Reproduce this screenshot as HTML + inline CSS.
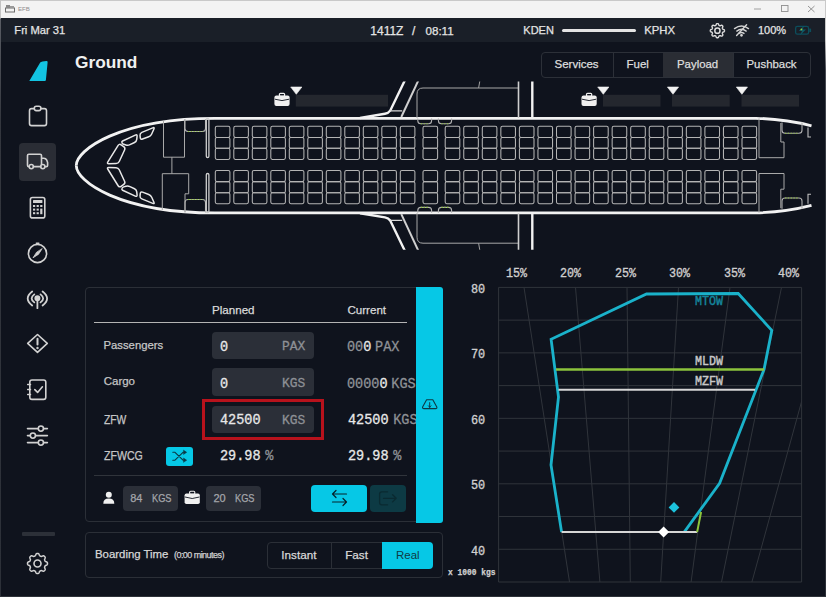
<!DOCTYPE html><html><head><meta charset="utf-8"><style>
*{box-sizing:border-box;margin:0;padding:0}
html,body{width:826px;height:597px;overflow:hidden;background:#0f131d;font-family:"Liberation Sans",sans-serif;color:#dcdcdc}
.abs{position:absolute}
.t{position:absolute;white-space:nowrap;line-height:1;-webkit-text-stroke:0.25px currentColor}
.mono{font-family:"Liberation Mono",monospace}
svg{position:absolute;overflow:visible}
</style></head><body>
<div class="abs" style="left:0;top:0;width:826px;height:18px;background:#f3f3f3"></div>
<div class="abs" style="left:0;top:0;width:826px;height:1px;background:#c9c9c9"></div>
<div class="abs" style="left:0;top:0;width:1px;height:597px;background:linear-gradient(#c4c4c4 0,#c4c4c4 18px,#5a5d64 19px,#34373e 120px,#2c3038 597px)"></div>
<div class="abs" style="left:825px;top:0;width:1px;height:597px;background:linear-gradient(#c9c9c9 0,#c9c9c9 40px,#4a4d55 70px,#2c3038 200px,#2c3038 597px)"></div>
<div class="abs" style="left:0;top:596px;width:826px;height:1px;background:#2e3239"></div>
<svg style="left:0;top:0" width="40" height="18" viewBox="0 0 40 18">
<rect x="5.5" y="8" width="9" height="4" fill="none" stroke="#6d6d6d" stroke-width="1"/>
<rect x="6" y="5" width="4" height="3" fill="#8a8a8a"/><rect x="10" y="6" width="4" height="2" fill="#9a9a9a"/>
</svg>
<div class="t" style="left:18px;top:6.4px;font-size:6.1px;color:#8e8e8e;-webkit-text-stroke:0">EFB</div>
<svg style="left:740px;top:0" width="86" height="18" viewBox="0 0 86 18">
<line x1="14" y1="9" x2="21" y2="9" stroke="#8a8a8a" stroke-width="0.8"/>
<rect x="41.5" y="5.5" width="6.5" height="6" fill="none" stroke="#8f8f8f" stroke-width="0.9"/>
<path d="M68,6 L74.5,12 M74.5,6 L68,12" stroke="#8a8a8a" stroke-width="0.9"/>
</svg>
<div class="abs" style="left:1px;top:18px;width:824px;height:23.6px;background:#1a1f28"></div>
<div class="t" style="left:14.3px;color:#e4e4e4;font-size:12px;top:25px;font-size:11.2px">Fri Mar 31</div>
<div class="t" style="left:370.3px;color:#e4e4e4;font-size:12px;top:25px">1411Z</div>
<div class="t" style="left:412px;color:#e4e4e4;font-size:12px;top:25px">/</div>
<div class="t" style="left:425.5px;color:#e4e4e4;font-size:12px;top:25px;font-size:11.6px">08:11</div>
<div class="t" style="left:523.3px;color:#e4e4e4;font-size:12px;top:25px;font-size:11px">KDEN</div>
<div class="abs" style="left:562px;top:29px;width:74px;height:3px;background:#e4e4e4;border-radius:1.5px"></div>
<div class="t" style="left:644.3px;color:#e4e4e4;font-size:12px;top:25px;font-size:11.3px">KPHX</div>
<div class="t" style="left:758px;color:#e4e4e4;font-size:12px;top:25px;font-size:11px">100%</div>
<svg style="left:0;top:0" width="826" height="42" viewBox="0 0 826 42">
<path d="M724.50,30.70 L724.49,30.89 L724.47,31.07 L724.42,31.25 L724.35,31.43 L724.22,31.60 L724.01,31.75 L723.74,31.87 L723.42,31.98 L723.14,32.08 L722.93,32.18 L722.78,32.29 L722.68,32.42 L722.60,32.54 L722.54,32.67 L722.48,32.80 L722.43,32.94 L722.38,33.08 L722.35,33.22 L722.33,33.38 L722.36,33.56 L722.43,33.78 L722.56,34.05 L722.71,34.35 L722.82,34.64 L722.86,34.89 L722.83,35.10 L722.76,35.28 L722.66,35.44 L722.55,35.58 L722.42,35.72 L722.28,35.85 L722.14,35.96 L721.98,36.06 L721.80,36.13 L721.59,36.16 L721.34,36.12 L721.05,36.01 L720.75,35.86 L720.48,35.73 L720.26,35.66 L720.08,35.63 L719.92,35.65 L719.78,35.68 L719.64,35.73 L719.50,35.78 L719.37,35.84 L719.24,35.90 L719.12,35.98 L718.99,36.08 L718.88,36.23 L718.78,36.44 L718.68,36.72 L718.57,37.04 L718.45,37.31 L718.30,37.52 L718.13,37.65 L717.95,37.72 L717.77,37.77 L717.59,37.79 L717.40,37.80 L717.21,37.79 L717.03,37.77 L716.85,37.72 L716.67,37.65 L716.50,37.52 L716.35,37.31 L716.23,37.04 L716.12,36.72 L716.02,36.44 L715.92,36.23 L715.81,36.08 L715.68,35.98 L715.56,35.90 L715.43,35.84 L715.30,35.78 L715.16,35.73 L715.02,35.68 L714.88,35.65 L714.72,35.63 L714.54,35.66 L714.32,35.73 L714.05,35.86 L713.75,36.01 L713.46,36.12 L713.21,36.16 L713.00,36.13 L712.82,36.06 L712.66,35.96 L712.52,35.85 L712.38,35.72 L712.25,35.58 L712.14,35.44 L712.04,35.28 L711.97,35.10 L711.94,34.89 L711.98,34.64 L712.09,34.35 L712.24,34.05 L712.37,33.78 L712.44,33.56 L712.47,33.38 L712.45,33.22 L712.42,33.08 L712.37,32.94 L712.32,32.80 L712.26,32.67 L712.20,32.54 L712.12,32.42 L712.02,32.29 L711.87,32.18 L711.66,32.08 L711.38,31.98 L711.06,31.87 L710.79,31.75 L710.58,31.60 L710.45,31.43 L710.38,31.25 L710.33,31.07 L710.31,30.89 L710.30,30.70 L710.31,30.51 L710.33,30.33 L710.38,30.15 L710.45,29.97 L710.58,29.80 L710.79,29.65 L711.06,29.53 L711.38,29.42 L711.66,29.32 L711.87,29.22 L712.02,29.11 L712.12,28.98 L712.20,28.86 L712.26,28.73 L712.32,28.60 L712.37,28.46 L712.42,28.32 L712.45,28.18 L712.47,28.02 L712.44,27.84 L712.37,27.62 L712.24,27.35 L712.09,27.05 L711.98,26.76 L711.94,26.51 L711.97,26.30 L712.04,26.12 L712.14,25.96 L712.25,25.82 L712.38,25.68 L712.52,25.55 L712.66,25.44 L712.82,25.34 L713.00,25.27 L713.21,25.24 L713.46,25.28 L713.75,25.39 L714.05,25.54 L714.32,25.67 L714.54,25.74 L714.72,25.77 L714.88,25.75 L715.02,25.72 L715.16,25.67 L715.30,25.62 L715.43,25.56 L715.56,25.50 L715.68,25.42 L715.81,25.32 L715.92,25.17 L716.02,24.96 L716.12,24.68 L716.23,24.36 L716.35,24.09 L716.50,23.88 L716.67,23.75 L716.85,23.68 L717.03,23.63 L717.21,23.61 L717.40,23.60 L717.59,23.61 L717.77,23.63 L717.95,23.68 L718.13,23.75 L718.30,23.88 L718.45,24.09 L718.57,24.36 L718.68,24.68 L718.78,24.96 L718.88,25.17 L718.99,25.32 L719.12,25.42 L719.24,25.50 L719.37,25.56 L719.50,25.62 L719.64,25.67 L719.78,25.72 L719.92,25.75 L720.08,25.77 L720.26,25.74 L720.48,25.67 L720.75,25.54 L721.05,25.39 L721.34,25.28 L721.59,25.24 L721.80,25.27 L721.98,25.34 L722.14,25.44 L722.28,25.55 L722.42,25.68 L722.55,25.82 L722.66,25.96 L722.76,26.12 L722.83,26.30 L722.86,26.51 L722.82,26.76 L722.71,27.05 L722.56,27.35 L722.43,27.62 L722.36,27.84 L722.33,28.02 L722.35,28.18 L722.38,28.32 L722.43,28.46 L722.48,28.60 L722.54,28.73 L722.60,28.86 L722.68,28.98 L722.78,29.11 L722.93,29.22 L723.14,29.32 L723.42,29.42 L723.74,29.53 L724.01,29.65 L724.22,29.80 L724.35,29.97 L724.42,30.15 L724.47,30.33 L724.49,30.51Z" fill="none" stroke="#dcdcdc" stroke-width="1.4" stroke-linejoin="round"/>
<circle cx="717.4" cy="30.7" r="2.6" fill="none" stroke="#dcdcdc" stroke-width="1.5"/>
<g fill="none" stroke="#d4d4d4" stroke-width="1.4" stroke-linecap="round">
<path d="M734.5,28.6 Q741.5,23.4 748.5,28.6"/><path d="M736.8,31.1 Q741.5,27.5 746.2,31.1"/><path d="M739,33.4 Q741.5,31.6 744,33.4"/>
<circle cx="741.5" cy="35.3" r="0.7" fill="#d4d4d4"/>
<line x1="736.6" y1="35.6" x2="746.6" y2="24.8"/>
</g>
<rect x="795.6" y="26.4" width="13" height="7.8" rx="1.8" fill="none" stroke="#0c4e5c" stroke-width="1.3"/>
<rect x="809.3" y="28.6" width="1.8" height="3.4" fill="#0c4e5c"/>
<path d="M804,25.8 L798.8,31 L802,31 L800.2,35 L806,29.4 L802.8,29.4 Z" fill="#0e5a68"/>
<circle cx="801.4" cy="29.4" r="0.9" fill="#9ccc2a"/>
</svg>
<div class="abs" style="left:19px;top:143px;width:37px;height:37.5px;background:#2a2d35;border-radius:4px"></div>
<svg style="left:0;top:0" width="70" height="597" viewBox="0 0 70 597">
<path d="M40.2,62.6 Q40.8,61.6 42.5,61.4 L46.4,61 Q47.8,60.9 47.6,62.4 L45.9,80 Q45.8,81 44.8,81 L29.3,81 Z" fill="#12c4e2" stroke="none"/>
<g fill="none" stroke="#d2d2d2" stroke-width="1.6" stroke-linecap="round" stroke-linejoin="round">
<path d="M33.8,108.6 L31.6,108.6 Q29.5,108.6 29.5,110.7 L29.5,123.5 Q29.5,125.6 31.6,125.6 L44.4,125.6 Q46.5,125.6 46.5,123.5 L46.5,110.7 Q46.5,108.6 44.4,108.6 L41.2,108.6"/>
<rect x="34.3" y="106.2" width="6.6" height="4.4" rx="2"/>
<path d="M41.5,164.5 L41.5,155.6 Q41.5,154.2 40.1,154.2 L28.9,154.2 Q27.5,154.2 27.5,155.6 L27.5,165.2 Q27.5,166.6 28.9,166.6 L29.2,166.6 M41.5,158.2 L43.8,158.2 Q45.8,158.2 46.8,160.2 L47.6,162.4 L47.6,165.4 Q47.6,166.6 46.4,166.6 L44.9,166.6 M40.7,166.6 L33.4,166.6"/>
<circle cx="31.3" cy="166.6" r="2.1"/><circle cx="42.8" cy="166.6" r="2.1"/>
<rect x="30.4" y="197.5" width="14.4" height="20.4" rx="2"/>
</g>
<g fill="#d2d2d2">
<rect x="33" y="200" width="9.4" height="3" rx="0.5"/>
<rect x="33" y="205" width="2.2" height="2"/><rect x="36.6" y="205" width="2.2" height="2"/><rect x="40.2" y="205" width="2.2" height="2"/>
<rect x="33" y="208.6" width="2.2" height="2"/><rect x="36.6" y="208.6" width="2.2" height="2"/><rect x="40.2" y="208.6" width="2.2" height="5.6"/>
<rect x="33" y="212.2" width="2.2" height="2"/><rect x="36.6" y="212.2" width="2.2" height="2"/>
</g>
<g fill="none" stroke="#d2d2d2" stroke-width="1.6" stroke-linecap="round" stroke-linejoin="round">
<circle cx="37.5" cy="253.5" r="9.1"/>
<path d="M36.4,243.2 L38.8,243.2"/>
<path d="M42,248.9 L38.5,254.3 L33,257.8 L36.5,252.4 Z" fill="#d2d2d2" stroke-width="0.8"/>
<path d="M32.2,291.5 Q23.2,298.5 32.2,305.5 M42.6,291.5 Q51.6,298.5 42.6,305.5 M34.3,294.4 Q29,298.4 34.3,302.4 M40.5,294.4 Q45.8,298.4 40.5,302.4" stroke-width="1.8"/>
<circle cx="37.4" cy="298.3" r="2.2" fill="#d2d2d2"/>
<path d="M37.4,300 L37.4,308.2" stroke-width="1.8"/>
<path d="M37.5,334.5 L47.3,343.4 L37.5,352.3 L27.7,343.4 Z"/>
<path d="M37.5,338.8 L37.5,344.6" stroke-width="2"/>
<circle cx="37.5" cy="348" r="0.5" fill="#d2d2d2" stroke-width="1.4"/>
<rect x="29.8" y="380" width="16" height="19.4" rx="2.2"/>
<path d="M34.8,389.6 L37.6,392.4 L42.4,386.8"/>
<path d="M27.6,384.5 L30.6,384.5 M27.6,389.5 L30.6,389.5 M27.6,394.5 L30.6,394.5" stroke-width="1.3"/>
<path d="M27.5,428.6 L38.2,428.6 M43.6,428.6 L47.4,428.6 M27.5,435.6 L30.2,435.6 M35.6,435.6 L47.4,435.6 M27.5,442.6 L38.2,442.6 M43.6,442.6 L47.4,442.6"/>
<circle cx="40.9" cy="428.6" r="2.6"/><circle cx="32.9" cy="435.6" r="2.6"/><circle cx="40.9" cy="442.6" r="2.6"/>
<path d="M47.50,563.50 L47.49,563.76 L47.46,564.02 L47.40,564.28 L47.30,564.53 L47.12,564.77 L46.85,564.98 L46.49,565.17 L46.07,565.32 L45.70,565.47 L45.41,565.62 L45.22,565.79 L45.08,565.96 L44.97,566.15 L44.88,566.33 L44.80,566.52 L44.72,566.72 L44.65,566.91 L44.60,567.12 L44.57,567.34 L44.60,567.60 L44.69,567.90 L44.85,568.27 L45.03,568.68 L45.16,569.07 L45.20,569.41 L45.15,569.70 L45.05,569.95 L44.91,570.17 L44.75,570.38 L44.57,570.57 L44.38,570.75 L44.17,570.91 L43.95,571.05 L43.70,571.15 L43.41,571.20 L43.07,571.16 L42.68,571.03 L42.27,570.85 L41.90,570.69 L41.60,570.60 L41.34,570.57 L41.12,570.60 L40.91,570.65 L40.72,570.72 L40.52,570.80 L40.33,570.88 L40.15,570.97 L39.96,571.08 L39.79,571.22 L39.62,571.41 L39.47,571.70 L39.32,572.07 L39.17,572.49 L38.98,572.85 L38.77,573.12 L38.53,573.30 L38.28,573.40 L38.02,573.46 L37.76,573.49 L37.50,573.50 L37.24,573.49 L36.98,573.46 L36.72,573.40 L36.47,573.30 L36.23,573.12 L36.02,572.85 L35.83,572.49 L35.68,572.07 L35.53,571.70 L35.38,571.41 L35.21,571.22 L35.04,571.08 L34.85,570.97 L34.67,570.88 L34.48,570.80 L34.28,570.72 L34.09,570.65 L33.88,570.60 L33.66,570.57 L33.40,570.60 L33.10,570.69 L32.73,570.85 L32.32,571.03 L31.93,571.16 L31.59,571.20 L31.30,571.15 L31.05,571.05 L30.83,570.91 L30.62,570.75 L30.43,570.57 L30.25,570.38 L30.09,570.17 L29.95,569.95 L29.85,569.70 L29.80,569.41 L29.84,569.07 L29.97,568.68 L30.15,568.27 L30.31,567.90 L30.40,567.60 L30.43,567.34 L30.40,567.12 L30.35,566.91 L30.28,566.72 L30.20,566.52 L30.12,566.33 L30.03,566.15 L29.92,565.96 L29.78,565.79 L29.59,565.62 L29.30,565.47 L28.93,565.32 L28.51,565.17 L28.15,564.98 L27.88,564.77 L27.70,564.53 L27.60,564.28 L27.54,564.02 L27.51,563.76 L27.50,563.50 L27.51,563.24 L27.54,562.98 L27.60,562.72 L27.70,562.47 L27.88,562.23 L28.15,562.02 L28.51,561.83 L28.93,561.68 L29.30,561.53 L29.59,561.38 L29.78,561.21 L29.92,561.04 L30.03,560.85 L30.12,560.67 L30.20,560.48 L30.28,560.28 L30.35,560.09 L30.40,559.88 L30.43,559.66 L30.40,559.40 L30.31,559.10 L30.15,558.73 L29.97,558.32 L29.84,557.93 L29.80,557.59 L29.85,557.30 L29.95,557.05 L30.09,556.83 L30.25,556.62 L30.43,556.43 L30.62,556.25 L30.83,556.09 L31.05,555.95 L31.30,555.85 L31.59,555.80 L31.93,555.84 L32.32,555.97 L32.73,556.15 L33.10,556.31 L33.40,556.40 L33.66,556.43 L33.88,556.40 L34.09,556.35 L34.28,556.28 L34.48,556.20 L34.67,556.12 L34.85,556.03 L35.04,555.92 L35.21,555.78 L35.38,555.59 L35.53,555.30 L35.68,554.93 L35.83,554.51 L36.02,554.15 L36.23,553.88 L36.47,553.70 L36.72,553.60 L36.98,553.54 L37.24,553.51 L37.50,553.50 L37.76,553.51 L38.02,553.54 L38.28,553.60 L38.53,553.70 L38.77,553.88 L38.98,554.15 L39.17,554.51 L39.32,554.93 L39.47,555.30 L39.62,555.59 L39.79,555.78 L39.96,555.92 L40.15,556.03 L40.33,556.12 L40.52,556.20 L40.72,556.28 L40.91,556.35 L41.12,556.40 L41.34,556.43 L41.60,556.40 L41.90,556.31 L42.27,556.15 L42.68,555.97 L43.07,555.84 L43.41,555.80 L43.70,555.85 L43.95,555.95 L44.17,556.09 L44.38,556.25 L44.57,556.43 L44.75,556.62 L44.91,556.83 L45.05,557.05 L45.15,557.30 L45.20,557.59 L45.16,557.93 L45.03,558.32 L44.85,558.73 L44.69,559.10 L44.60,559.40 L44.57,559.66 L44.60,559.88 L44.65,560.09 L44.72,560.28 L44.80,560.48 L44.88,560.67 L44.97,560.85 L45.08,561.04 L45.22,561.21 L45.41,561.38 L45.70,561.53 L46.07,561.68 L46.49,561.83 L46.85,562.02 L47.12,562.23 L47.30,562.47 L47.40,562.72 L47.46,562.98 L47.49,563.24Z" stroke-width="1.5"/>
<circle cx="37.5" cy="563.5" r="3.5"/>
</g>
</svg>
<div class="abs" style="left:21.5px;top:532.3px;width:33px;height:3.8px;background:#2c3038;border-radius:1px"></div>
<div class="t" style="left:75px;top:54px;font-size:17.3px;font-weight:bold;color:#f0f0f0;-webkit-text-stroke:0">Ground</div>
<div class="abs" style="left:541px;top:51.5px;width:270px;height:26px;border:1px solid #2c3038;border-radius:4px"></div>
<div class="abs" style="left:663px;top:52.5px;width:70px;height:24px;background:#2a2d34"></div>
<div class="abs" style="left:613px;top:52px;width:1px;height:25px;background:#2c3038"></div>
<div class="abs" style="left:733px;top:52px;width:1px;height:25px;background:#2c3038"></div>
<div class="t" style="left:554.5px;top:59px;font-size:11.5px;color:#dedede;font-size:11.5px">Services</div>
<div class="t" style="left:626.5px;top:59px;font-size:11.5px;color:#dedede">Fuel</div>
<div class="t" style="left:677px;top:59px;font-size:11.5px;color:#dedede;font-size:11.4px">Payload</div>
<div class="t" style="left:746.5px;top:59px;font-size:11.5px;color:#dedede;font-size:11.4px">Pushback</div>
<svg style="left:0;top:0" width="826" height="260" viewBox="0 0 826 260">
<defs><clipPath id="acl"><rect x="60" y="81.5" width="766" height="168.3"/></clipPath></defs>
<g clip-path="url(#acl)">
<rect x="295.8" y="94.8" width="92.19999999999999" height="11.8" fill="#24272e"/>
<rect x="603" y="94.8" width="57.5" height="11.8" fill="#24272e"/>
<rect x="672" y="94.8" width="57.700000000000045" height="11.8" fill="#24272e"/>
<rect x="741.5" y="94.8" width="57.5" height="11.8" fill="#24272e"/>
<path d="M290.7,87 L301.90000000000003,87 L296.3,94.3 Z" fill="#f2f2f2" stroke="#f2f2f2" stroke-width="0.6" stroke-linejoin="round"/>
<path d="M597.6999999999999,87 L608.9,87 L603.3,94.3 Z" fill="#f2f2f2" stroke="#f2f2f2" stroke-width="0.6" stroke-linejoin="round"/>
<path d="M667.4,87 L678.6,87 L673,94.3 Z" fill="#f2f2f2" stroke="#f2f2f2" stroke-width="0.6" stroke-linejoin="round"/>
<path d="M736.3,87 L747.5,87 L741.9,94.3 Z" fill="#f2f2f2" stroke="#f2f2f2" stroke-width="0.6" stroke-linejoin="round"/>
<g transform="translate(274.4,93)"><rect x="0" y="2.5" width="15.2" height="10.5" rx="2" fill="#f0f0f0"/><rect x="5" y="0.3" width="5.2" height="3" rx="1" fill="none" stroke="#f0f0f0" stroke-width="1.2"/><path d="M0.5,6.2 Q7.6,9 14.7,6.2" fill="none" stroke="#0f131d" stroke-width="0.9"/></g>
<g transform="translate(581.5,93)"><rect x="0" y="2.5" width="15.2" height="10.5" rx="2" fill="#f0f0f0"/><rect x="5" y="0.3" width="5.2" height="3" rx="1" fill="none" stroke="#f0f0f0" stroke-width="1.2"/><path d="M0.5,6.2 Q7.6,9 14.7,6.2" fill="none" stroke="#0f131d" stroke-width="0.9"/></g>
<path d="M76.3,165.6 C76,150 119.5,118.3 214.8,118.3 L756,118.3 Q785,119 811.5,125.8" fill="none" stroke="#f2f2f2" stroke-width="2.8"/>
<path d="M76.3,165.6 C76,181.2 119.5,212.9 214.8,212.9 L756,212.9 Q785,212.2 811.5,205.4" fill="none" stroke="#f2f2f2" stroke-width="2.8"/>
<path d="M406,78 L390.2,110.7 Q388.5,113.2 385,113.8 L360,118" fill="none" stroke="#f2f2f2" stroke-width="2.4"/>
<path d="M390.2,110.9 L402.2,110.9" fill="none" stroke="#d8d8d8" stroke-width="1.2"/>
<path d="M419.5,78 L401.3,117" fill="none" stroke="#d0d0d0" stroke-width="2"/>
<path d="M417,118 L417,94 Q417,88 423,88 L518.5,88" fill="none" stroke="#a8a8a8" stroke-width="1"/>
<path d="M480,80 L478.6,88" fill="none" stroke="#a0a0a0" stroke-width="1"/>
<path d="M518.5,78 L518.5,118" fill="none" stroke="#cfcfcf" stroke-width="1.6"/>
<path d="M532.3,78 L532.3,118" fill="none" stroke="#f2f2f2" stroke-width="2.4"/>
<path d="M406,253.2 L390.2,220.5 Q388.5,218.0 385,217.4 L360,213.2" fill="none" stroke="#f2f2f2" stroke-width="2.4"/>
<path d="M390.2,220.3 L402.2,220.3" fill="none" stroke="#d8d8d8" stroke-width="1.2"/>
<path d="M419.5,253.2 L401.3,214.2" fill="none" stroke="#d0d0d0" stroke-width="2"/>
<path d="M417,213.2 L417,237.2 Q417,243.2 423,243.2 L518.5,243.2" fill="none" stroke="#a8a8a8" stroke-width="1"/>
<path d="M480,251.2 L478.6,243.2" fill="none" stroke="#a0a0a0" stroke-width="1"/>
<path d="M518.5,253.2 L518.5,213.2" fill="none" stroke="#cfcfcf" stroke-width="1.6"/>
<path d="M532.3,253.2 L532.3,213.2" fill="none" stroke="#f2f2f2" stroke-width="2.4"/>
<path d="M140.03,135.39 Q139.80,133.20 141.83,132.36 L152.77,127.84 Q154.80,127.00 153.91,129.01 L151.69,133.99 Q150.80,136.00 148.74,136.76 L142.56,139.04 Q140.50,139.80 140.27,137.61 Z" fill="none" stroke="#e8e8e8" stroke-width="1.5"/>
<path d="M140.03,195.81 Q139.80,198.00 141.83,198.84 L152.77,203.36 Q154.80,204.20 153.91,202.19 L151.69,197.21 Q150.80,195.20 148.74,194.44 L142.56,192.16 Q140.50,191.40 140.27,193.59 Z" fill="none" stroke="#e8e8e8" stroke-width="1.5"/>
<path d="M121.95,142.64 Q121.50,141.50 122.61,140.99 L135.30,135.12 Q137.30,134.20 137.06,136.39 L136.74,139.31 Q136.50,141.50 134.52,142.46 L129.98,144.64 Q128.00,145.60 125.89,144.99 L123.68,144.34 Q122.50,144.00 122.05,142.86 Z" fill="none" stroke="#e8e8e8" stroke-width="1.5"/>
<path d="M121.95,188.56 Q121.50,189.70 122.61,190.21 L135.30,196.08 Q137.30,197.00 137.06,194.81 L136.74,191.89 Q136.50,189.70 134.52,188.74 L129.98,186.56 Q128.00,185.60 125.89,186.21 L123.68,186.86 Q122.50,187.20 122.05,188.34 Z" fill="none" stroke="#e8e8e8" stroke-width="1.5"/>
<path d="M118.14,145.47 Q119.30,143.60 121.09,144.87 L123.71,146.73 Q125.50,148.00 124.57,150.00 L119.23,161.50 Q118.30,163.50 116.10,163.56 L108.90,163.74 Q106.70,163.80 107.86,161.93 Z" fill="none" stroke="#e8e8e8" stroke-width="1.5"/>
<path d="M118.14,185.73 Q119.30,187.60 121.09,186.33 L123.71,184.47 Q125.50,183.20 124.57,181.20 L119.23,169.70 Q118.30,167.70 116.10,167.64 L108.90,167.46 Q106.70,167.40 107.86,169.27 Z" fill="none" stroke="#e8e8e8" stroke-width="1.5"/>
<path d="M163.5,121 L163.5,157.2 L184.5,157.2 L184.5,119.5" fill="none" stroke="#a9a9a9" stroke-width="1"/>
<path d="M171.9,157.2 L171.9,173.7" fill="none" stroke="#a9a9a9" stroke-width="1"/>
<path d="M162.3,210 L162.3,173.7 L188.7,173.7 L188.7,193.8 L185,193.8 L185,212" fill="none" stroke="#a9a9a9" stroke-width="1"/>
<path d="M185,119 L185,128.5 Q185,131.5 188,131.5 L202.5,131.5 Q205.5,131.5 205.5,128.5 L205.5,119" fill="none" stroke="#b0b0b0" stroke-width="1.1"/><path d="M188,131.5 L202.5,131.5" stroke="#8fc43a" stroke-width="1.1" stroke-dasharray="1.2,1.6"/>
<path d="M185,212.5 L185,202.5 Q185,199.5 188,199.5 L202.5,199.5 Q205.5,199.5 205.5,202.5 L205.5,212.5" fill="none" stroke="#b0b0b0" stroke-width="1.1"/><path d="M188,199.5 L202.5,199.5" stroke="#8fc43a" stroke-width="1.1" stroke-dasharray="1.4,1.4"/>
<path d="M417.8,118.5 L417.8,120.8 Q417.8,123.8 420.8,123.8 L428.6,123.8 Q431.6,123.8 431.6,120.8 L431.6,118.5" fill="none" stroke="#b0b0b0" stroke-width="1.1"/><path d="M420.8,123.8 L428.6,123.8" stroke="#8fc43a" stroke-width="1.1" stroke-dasharray="1.2,1.6"/>
<path d="M417.8,212.7 L417.8,210.4 Q417.8,207.4 420.8,207.4 L428.6,207.4 Q431.6,207.4 431.6,210.4 L431.6,212.7" fill="none" stroke="#b0b0b0" stroke-width="1.1"/><path d="M420.8,207.4 L428.6,207.4" stroke="#8fc43a" stroke-width="1.1" stroke-dasharray="1.4,1.4"/>
<path d="M438.4,118.5 L438.4,120.8 Q438.4,123.8 441.4,123.8 L448.6,123.8 Q451.6,123.8 451.6,120.8 L451.6,118.5" fill="none" stroke="#b0b0b0" stroke-width="1.1"/><path d="M441.4,123.8 L448.6,123.8" stroke="#8fc43a" stroke-width="1.1" stroke-dasharray="1.2,1.6"/>
<path d="M438.4,212.7 L438.4,210.4 Q438.4,207.4 441.4,207.4 L448.6,207.4 Q451.6,207.4 451.6,210.4 L451.6,212.7" fill="none" stroke="#b0b0b0" stroke-width="1.1"/><path d="M441.4,207.4 L448.6,207.4" stroke="#8fc43a" stroke-width="1.1" stroke-dasharray="1.4,1.4"/>
<path d="M782,122.5 L782,130.2 Q782,133.2 785,133.2 L799,133.2 Q802,133.2 802,130.2 L802,122.5" fill="none" stroke="#b0b0b0" stroke-width="1.1"/><path d="M785,133.2 L799,133.2" stroke="#8fc43a" stroke-width="1.1" stroke-dasharray="1.2,1.6"/>
<path d="M782,208.7 L782,201.0 Q782,198.0 785,198.0 L799,198.0 Q802,198.0 802,201.0 L802,208.7" fill="none" stroke="#b0b0b0" stroke-width="1.1"/><path d="M785,198.0 L799,198.0" stroke="#8fc43a" stroke-width="1.1" stroke-dasharray="1.4,1.4"/>
<rect x="206.3" y="118.5" width="2.6" height="39" rx="1.3" fill="none" stroke="#d0d0d0" stroke-width="1.3"/>
<rect x="206.3" y="173.5" width="2.6" height="39" rx="1.3" fill="none" stroke="#d0d0d0" stroke-width="1.3"/>
<path d="M759,118.5 L759,157.7 L784,157.7 L784,142 L780.8,142 L780.8,123" fill="none" stroke="#a9a9a9" stroke-width="1"/>
<path d="M759,212.7 L759,173.5 L784,173.5 L784,189.2 L780.8,189.2 L780.8,208.2" fill="none" stroke="#a9a9a9" stroke-width="1"/>
<path d="M808,127.5 L808,137 L811,137" fill="none" stroke="#c0c0c0" stroke-width="1.1"/>
<path d="M808,203.7 L808,194.2 L811,194.2" fill="none" stroke="#c0c0c0" stroke-width="1.1"/>
<rect x="215.30" y="126.3" width="14.6" height="11.10" rx="1.6" fill="none" stroke="#b4b4b4" stroke-width="1.05"/>
<rect x="215.30" y="137.4" width="14.6" height="10.90" rx="1.6" fill="none" stroke="#b4b4b4" stroke-width="1.05"/>
<rect x="215.30" y="148.3" width="14.6" height="11.10" rx="1.6" fill="none" stroke="#b4b4b4" stroke-width="1.05"/>
<rect x="215.30" y="170.5" width="14.6" height="11.10" rx="1.6" fill="none" stroke="#b4b4b4" stroke-width="1.05"/>
<rect x="215.30" y="181.6" width="14.6" height="11.20" rx="1.6" fill="none" stroke="#b4b4b4" stroke-width="1.05"/>
<rect x="215.30" y="192.8" width="14.6" height="10.90" rx="1.6" fill="none" stroke="#b4b4b4" stroke-width="1.05"/>
<rect x="233.80" y="126.3" width="14.6" height="11.10" rx="1.6" fill="none" stroke="#b4b4b4" stroke-width="1.05"/>
<rect x="233.80" y="137.4" width="14.6" height="10.90" rx="1.6" fill="none" stroke="#b4b4b4" stroke-width="1.05"/>
<rect x="233.80" y="148.3" width="14.6" height="11.10" rx="1.6" fill="none" stroke="#b4b4b4" stroke-width="1.05"/>
<rect x="233.80" y="170.5" width="14.6" height="11.10" rx="1.6" fill="none" stroke="#b4b4b4" stroke-width="1.05"/>
<rect x="233.80" y="181.6" width="14.6" height="11.20" rx="1.6" fill="none" stroke="#b4b4b4" stroke-width="1.05"/>
<rect x="233.80" y="192.8" width="14.6" height="10.90" rx="1.6" fill="none" stroke="#b4b4b4" stroke-width="1.05"/>
<rect x="252.30" y="126.3" width="14.6" height="11.10" rx="1.6" fill="none" stroke="#b4b4b4" stroke-width="1.05"/>
<rect x="252.30" y="137.4" width="14.6" height="10.90" rx="1.6" fill="none" stroke="#b4b4b4" stroke-width="1.05"/>
<rect x="252.30" y="148.3" width="14.6" height="11.10" rx="1.6" fill="none" stroke="#b4b4b4" stroke-width="1.05"/>
<rect x="252.30" y="170.5" width="14.6" height="11.10" rx="1.6" fill="none" stroke="#b4b4b4" stroke-width="1.05"/>
<rect x="252.30" y="181.6" width="14.6" height="11.20" rx="1.6" fill="none" stroke="#b4b4b4" stroke-width="1.05"/>
<rect x="252.30" y="192.8" width="14.6" height="10.90" rx="1.6" fill="none" stroke="#b4b4b4" stroke-width="1.05"/>
<rect x="270.80" y="126.3" width="14.6" height="11.10" rx="1.6" fill="none" stroke="#b4b4b4" stroke-width="1.05"/>
<rect x="270.80" y="137.4" width="14.6" height="10.90" rx="1.6" fill="none" stroke="#b4b4b4" stroke-width="1.05"/>
<rect x="270.80" y="148.3" width="14.6" height="11.10" rx="1.6" fill="none" stroke="#b4b4b4" stroke-width="1.05"/>
<rect x="270.80" y="170.5" width="14.6" height="11.10" rx="1.6" fill="none" stroke="#b4b4b4" stroke-width="1.05"/>
<rect x="270.80" y="181.6" width="14.6" height="11.20" rx="1.6" fill="none" stroke="#b4b4b4" stroke-width="1.05"/>
<rect x="270.80" y="192.8" width="14.6" height="10.90" rx="1.6" fill="none" stroke="#b4b4b4" stroke-width="1.05"/>
<rect x="289.30" y="126.3" width="14.6" height="11.10" rx="1.6" fill="none" stroke="#b4b4b4" stroke-width="1.05"/>
<rect x="289.30" y="137.4" width="14.6" height="10.90" rx="1.6" fill="none" stroke="#b4b4b4" stroke-width="1.05"/>
<rect x="289.30" y="148.3" width="14.6" height="11.10" rx="1.6" fill="none" stroke="#b4b4b4" stroke-width="1.05"/>
<rect x="289.30" y="170.5" width="14.6" height="11.10" rx="1.6" fill="none" stroke="#b4b4b4" stroke-width="1.05"/>
<rect x="289.30" y="181.6" width="14.6" height="11.20" rx="1.6" fill="none" stroke="#b4b4b4" stroke-width="1.05"/>
<rect x="289.30" y="192.8" width="14.6" height="10.90" rx="1.6" fill="none" stroke="#b4b4b4" stroke-width="1.05"/>
<rect x="307.80" y="126.3" width="14.6" height="11.10" rx="1.6" fill="none" stroke="#b4b4b4" stroke-width="1.05"/>
<rect x="307.80" y="137.4" width="14.6" height="10.90" rx="1.6" fill="none" stroke="#b4b4b4" stroke-width="1.05"/>
<rect x="307.80" y="148.3" width="14.6" height="11.10" rx="1.6" fill="none" stroke="#b4b4b4" stroke-width="1.05"/>
<rect x="307.80" y="170.5" width="14.6" height="11.10" rx="1.6" fill="none" stroke="#b4b4b4" stroke-width="1.05"/>
<rect x="307.80" y="181.6" width="14.6" height="11.20" rx="1.6" fill="none" stroke="#b4b4b4" stroke-width="1.05"/>
<rect x="307.80" y="192.8" width="14.6" height="10.90" rx="1.6" fill="none" stroke="#b4b4b4" stroke-width="1.05"/>
<rect x="326.30" y="126.3" width="14.6" height="11.10" rx="1.6" fill="none" stroke="#b4b4b4" stroke-width="1.05"/>
<rect x="326.30" y="137.4" width="14.6" height="10.90" rx="1.6" fill="none" stroke="#b4b4b4" stroke-width="1.05"/>
<rect x="326.30" y="148.3" width="14.6" height="11.10" rx="1.6" fill="none" stroke="#b4b4b4" stroke-width="1.05"/>
<rect x="326.30" y="170.5" width="14.6" height="11.10" rx="1.6" fill="none" stroke="#b4b4b4" stroke-width="1.05"/>
<rect x="326.30" y="181.6" width="14.6" height="11.20" rx="1.6" fill="none" stroke="#b4b4b4" stroke-width="1.05"/>
<rect x="326.30" y="192.8" width="14.6" height="10.90" rx="1.6" fill="none" stroke="#b4b4b4" stroke-width="1.05"/>
<rect x="344.80" y="126.3" width="14.6" height="11.10" rx="1.6" fill="none" stroke="#b4b4b4" stroke-width="1.05"/>
<rect x="344.80" y="137.4" width="14.6" height="10.90" rx="1.6" fill="none" stroke="#b4b4b4" stroke-width="1.05"/>
<rect x="344.80" y="148.3" width="14.6" height="11.10" rx="1.6" fill="none" stroke="#b4b4b4" stroke-width="1.05"/>
<rect x="344.80" y="170.5" width="14.6" height="11.10" rx="1.6" fill="none" stroke="#b4b4b4" stroke-width="1.05"/>
<rect x="344.80" y="181.6" width="14.6" height="11.20" rx="1.6" fill="none" stroke="#b4b4b4" stroke-width="1.05"/>
<rect x="344.80" y="192.8" width="14.6" height="10.90" rx="1.6" fill="none" stroke="#b4b4b4" stroke-width="1.05"/>
<rect x="363.30" y="126.3" width="14.6" height="11.10" rx="1.6" fill="none" stroke="#b4b4b4" stroke-width="1.05"/>
<rect x="363.30" y="137.4" width="14.6" height="10.90" rx="1.6" fill="none" stroke="#b4b4b4" stroke-width="1.05"/>
<rect x="363.30" y="148.3" width="14.6" height="11.10" rx="1.6" fill="none" stroke="#b4b4b4" stroke-width="1.05"/>
<rect x="363.30" y="170.5" width="14.6" height="11.10" rx="1.6" fill="none" stroke="#b4b4b4" stroke-width="1.05"/>
<rect x="363.30" y="181.6" width="14.6" height="11.20" rx="1.6" fill="none" stroke="#b4b4b4" stroke-width="1.05"/>
<rect x="363.30" y="192.8" width="14.6" height="10.90" rx="1.6" fill="none" stroke="#b4b4b4" stroke-width="1.05"/>
<rect x="381.80" y="126.3" width="14.6" height="11.10" rx="1.6" fill="none" stroke="#b4b4b4" stroke-width="1.05"/>
<rect x="381.80" y="137.4" width="14.6" height="10.90" rx="1.6" fill="none" stroke="#b4b4b4" stroke-width="1.05"/>
<rect x="381.80" y="148.3" width="14.6" height="11.10" rx="1.6" fill="none" stroke="#b4b4b4" stroke-width="1.05"/>
<rect x="381.80" y="170.5" width="14.6" height="11.10" rx="1.6" fill="none" stroke="#b4b4b4" stroke-width="1.05"/>
<rect x="381.80" y="181.6" width="14.6" height="11.20" rx="1.6" fill="none" stroke="#b4b4b4" stroke-width="1.05"/>
<rect x="381.80" y="192.8" width="14.6" height="10.90" rx="1.6" fill="none" stroke="#b4b4b4" stroke-width="1.05"/>
<rect x="400.30" y="126.3" width="14.6" height="11.10" rx="1.6" fill="none" stroke="#b4b4b4" stroke-width="1.05"/>
<rect x="400.30" y="137.4" width="14.6" height="10.90" rx="1.6" fill="none" stroke="#b4b4b4" stroke-width="1.05"/>
<rect x="400.30" y="148.3" width="14.6" height="11.10" rx="1.6" fill="none" stroke="#b4b4b4" stroke-width="1.05"/>
<rect x="400.30" y="170.5" width="14.6" height="11.10" rx="1.6" fill="none" stroke="#b4b4b4" stroke-width="1.05"/>
<rect x="400.30" y="181.6" width="14.6" height="11.20" rx="1.6" fill="none" stroke="#b4b4b4" stroke-width="1.05"/>
<rect x="400.30" y="192.8" width="14.6" height="10.90" rx="1.6" fill="none" stroke="#b4b4b4" stroke-width="1.05"/>
<rect x="423.00" y="126.3" width="14.6" height="11.10" rx="1.6" fill="none" stroke="#b4b4b4" stroke-width="1.05"/>
<rect x="423.00" y="137.4" width="14.6" height="10.90" rx="1.6" fill="none" stroke="#b4b4b4" stroke-width="1.05"/>
<rect x="423.00" y="148.3" width="14.6" height="11.10" rx="1.6" fill="none" stroke="#b4b4b4" stroke-width="1.05"/>
<rect x="423.00" y="170.5" width="14.6" height="11.10" rx="1.6" fill="none" stroke="#b4b4b4" stroke-width="1.05"/>
<rect x="423.00" y="181.6" width="14.6" height="11.20" rx="1.6" fill="none" stroke="#b4b4b4" stroke-width="1.05"/>
<rect x="423.00" y="192.8" width="14.6" height="10.90" rx="1.6" fill="none" stroke="#b4b4b4" stroke-width="1.05"/>
<rect x="445.20" y="126.3" width="14.6" height="11.10" rx="1.6" fill="none" stroke="#b4b4b4" stroke-width="1.05"/>
<rect x="445.20" y="137.4" width="14.6" height="10.90" rx="1.6" fill="none" stroke="#b4b4b4" stroke-width="1.05"/>
<rect x="445.20" y="148.3" width="14.6" height="11.10" rx="1.6" fill="none" stroke="#b4b4b4" stroke-width="1.05"/>
<rect x="445.20" y="170.5" width="14.6" height="11.10" rx="1.6" fill="none" stroke="#b4b4b4" stroke-width="1.05"/>
<rect x="445.20" y="181.6" width="14.6" height="11.20" rx="1.6" fill="none" stroke="#b4b4b4" stroke-width="1.05"/>
<rect x="445.20" y="192.8" width="14.6" height="10.90" rx="1.6" fill="none" stroke="#b4b4b4" stroke-width="1.05"/>
<rect x="463.75" y="126.3" width="14.6" height="11.10" rx="1.6" fill="none" stroke="#b4b4b4" stroke-width="1.05"/>
<rect x="463.75" y="137.4" width="14.6" height="10.90" rx="1.6" fill="none" stroke="#b4b4b4" stroke-width="1.05"/>
<rect x="463.75" y="148.3" width="14.6" height="11.10" rx="1.6" fill="none" stroke="#b4b4b4" stroke-width="1.05"/>
<rect x="463.75" y="170.5" width="14.6" height="11.10" rx="1.6" fill="none" stroke="#b4b4b4" stroke-width="1.05"/>
<rect x="463.75" y="181.6" width="14.6" height="11.20" rx="1.6" fill="none" stroke="#b4b4b4" stroke-width="1.05"/>
<rect x="463.75" y="192.8" width="14.6" height="10.90" rx="1.6" fill="none" stroke="#b4b4b4" stroke-width="1.05"/>
<rect x="482.30" y="126.3" width="14.6" height="11.10" rx="1.6" fill="none" stroke="#b4b4b4" stroke-width="1.05"/>
<rect x="482.30" y="137.4" width="14.6" height="10.90" rx="1.6" fill="none" stroke="#b4b4b4" stroke-width="1.05"/>
<rect x="482.30" y="148.3" width="14.6" height="11.10" rx="1.6" fill="none" stroke="#b4b4b4" stroke-width="1.05"/>
<rect x="482.30" y="170.5" width="14.6" height="11.10" rx="1.6" fill="none" stroke="#b4b4b4" stroke-width="1.05"/>
<rect x="482.30" y="181.6" width="14.6" height="11.20" rx="1.6" fill="none" stroke="#b4b4b4" stroke-width="1.05"/>
<rect x="482.30" y="192.8" width="14.6" height="10.90" rx="1.6" fill="none" stroke="#b4b4b4" stroke-width="1.05"/>
<rect x="500.85" y="126.3" width="14.6" height="11.10" rx="1.6" fill="none" stroke="#b4b4b4" stroke-width="1.05"/>
<rect x="500.85" y="137.4" width="14.6" height="10.90" rx="1.6" fill="none" stroke="#b4b4b4" stroke-width="1.05"/>
<rect x="500.85" y="148.3" width="14.6" height="11.10" rx="1.6" fill="none" stroke="#b4b4b4" stroke-width="1.05"/>
<rect x="500.85" y="170.5" width="14.6" height="11.10" rx="1.6" fill="none" stroke="#b4b4b4" stroke-width="1.05"/>
<rect x="500.85" y="181.6" width="14.6" height="11.20" rx="1.6" fill="none" stroke="#b4b4b4" stroke-width="1.05"/>
<rect x="500.85" y="192.8" width="14.6" height="10.90" rx="1.6" fill="none" stroke="#b4b4b4" stroke-width="1.05"/>
<rect x="519.40" y="126.3" width="14.6" height="11.10" rx="1.6" fill="none" stroke="#b4b4b4" stroke-width="1.05"/>
<rect x="519.40" y="137.4" width="14.6" height="10.90" rx="1.6" fill="none" stroke="#b4b4b4" stroke-width="1.05"/>
<rect x="519.40" y="148.3" width="14.6" height="11.10" rx="1.6" fill="none" stroke="#b4b4b4" stroke-width="1.05"/>
<rect x="519.40" y="170.5" width="14.6" height="11.10" rx="1.6" fill="none" stroke="#b4b4b4" stroke-width="1.05"/>
<rect x="519.40" y="181.6" width="14.6" height="11.20" rx="1.6" fill="none" stroke="#b4b4b4" stroke-width="1.05"/>
<rect x="519.40" y="192.8" width="14.6" height="10.90" rx="1.6" fill="none" stroke="#b4b4b4" stroke-width="1.05"/>
<rect x="537.95" y="126.3" width="14.6" height="11.10" rx="1.6" fill="none" stroke="#b4b4b4" stroke-width="1.05"/>
<rect x="537.95" y="137.4" width="14.6" height="10.90" rx="1.6" fill="none" stroke="#b4b4b4" stroke-width="1.05"/>
<rect x="537.95" y="148.3" width="14.6" height="11.10" rx="1.6" fill="none" stroke="#b4b4b4" stroke-width="1.05"/>
<rect x="537.95" y="170.5" width="14.6" height="11.10" rx="1.6" fill="none" stroke="#b4b4b4" stroke-width="1.05"/>
<rect x="537.95" y="181.6" width="14.6" height="11.20" rx="1.6" fill="none" stroke="#b4b4b4" stroke-width="1.05"/>
<rect x="537.95" y="192.8" width="14.6" height="10.90" rx="1.6" fill="none" stroke="#b4b4b4" stroke-width="1.05"/>
<rect x="556.50" y="126.3" width="14.6" height="11.10" rx="1.6" fill="none" stroke="#b4b4b4" stroke-width="1.05"/>
<rect x="556.50" y="137.4" width="14.6" height="10.90" rx="1.6" fill="none" stroke="#b4b4b4" stroke-width="1.05"/>
<rect x="556.50" y="148.3" width="14.6" height="11.10" rx="1.6" fill="none" stroke="#b4b4b4" stroke-width="1.05"/>
<rect x="556.50" y="170.5" width="14.6" height="11.10" rx="1.6" fill="none" stroke="#b4b4b4" stroke-width="1.05"/>
<rect x="556.50" y="181.6" width="14.6" height="11.20" rx="1.6" fill="none" stroke="#b4b4b4" stroke-width="1.05"/>
<rect x="556.50" y="192.8" width="14.6" height="10.90" rx="1.6" fill="none" stroke="#b4b4b4" stroke-width="1.05"/>
<rect x="575.05" y="126.3" width="14.6" height="11.10" rx="1.6" fill="none" stroke="#b4b4b4" stroke-width="1.05"/>
<rect x="575.05" y="137.4" width="14.6" height="10.90" rx="1.6" fill="none" stroke="#b4b4b4" stroke-width="1.05"/>
<rect x="575.05" y="148.3" width="14.6" height="11.10" rx="1.6" fill="none" stroke="#b4b4b4" stroke-width="1.05"/>
<rect x="575.05" y="170.5" width="14.6" height="11.10" rx="1.6" fill="none" stroke="#b4b4b4" stroke-width="1.05"/>
<rect x="575.05" y="181.6" width="14.6" height="11.20" rx="1.6" fill="none" stroke="#b4b4b4" stroke-width="1.05"/>
<rect x="575.05" y="192.8" width="14.6" height="10.90" rx="1.6" fill="none" stroke="#b4b4b4" stroke-width="1.05"/>
<rect x="593.60" y="126.3" width="14.6" height="11.10" rx="1.6" fill="none" stroke="#b4b4b4" stroke-width="1.05"/>
<rect x="593.60" y="137.4" width="14.6" height="10.90" rx="1.6" fill="none" stroke="#b4b4b4" stroke-width="1.05"/>
<rect x="593.60" y="148.3" width="14.6" height="11.10" rx="1.6" fill="none" stroke="#b4b4b4" stroke-width="1.05"/>
<rect x="593.60" y="170.5" width="14.6" height="11.10" rx="1.6" fill="none" stroke="#b4b4b4" stroke-width="1.05"/>
<rect x="593.60" y="181.6" width="14.6" height="11.20" rx="1.6" fill="none" stroke="#b4b4b4" stroke-width="1.05"/>
<rect x="593.60" y="192.8" width="14.6" height="10.90" rx="1.6" fill="none" stroke="#b4b4b4" stroke-width="1.05"/>
<rect x="612.15" y="126.3" width="14.6" height="11.10" rx="1.6" fill="none" stroke="#b4b4b4" stroke-width="1.05"/>
<rect x="612.15" y="137.4" width="14.6" height="10.90" rx="1.6" fill="none" stroke="#b4b4b4" stroke-width="1.05"/>
<rect x="612.15" y="148.3" width="14.6" height="11.10" rx="1.6" fill="none" stroke="#b4b4b4" stroke-width="1.05"/>
<rect x="612.15" y="170.5" width="14.6" height="11.10" rx="1.6" fill="none" stroke="#b4b4b4" stroke-width="1.05"/>
<rect x="612.15" y="181.6" width="14.6" height="11.20" rx="1.6" fill="none" stroke="#b4b4b4" stroke-width="1.05"/>
<rect x="612.15" y="192.8" width="14.6" height="10.90" rx="1.6" fill="none" stroke="#b4b4b4" stroke-width="1.05"/>
<rect x="630.70" y="126.3" width="14.6" height="11.10" rx="1.6" fill="none" stroke="#b4b4b4" stroke-width="1.05"/>
<rect x="630.70" y="137.4" width="14.6" height="10.90" rx="1.6" fill="none" stroke="#b4b4b4" stroke-width="1.05"/>
<rect x="630.70" y="148.3" width="14.6" height="11.10" rx="1.6" fill="none" stroke="#b4b4b4" stroke-width="1.05"/>
<rect x="630.70" y="170.5" width="14.6" height="11.10" rx="1.6" fill="none" stroke="#b4b4b4" stroke-width="1.05"/>
<rect x="630.70" y="181.6" width="14.6" height="11.20" rx="1.6" fill="none" stroke="#b4b4b4" stroke-width="1.05"/>
<rect x="630.70" y="192.8" width="14.6" height="10.90" rx="1.6" fill="none" stroke="#b4b4b4" stroke-width="1.05"/>
<rect x="649.25" y="126.3" width="14.6" height="11.10" rx="1.6" fill="none" stroke="#b4b4b4" stroke-width="1.05"/>
<rect x="649.25" y="137.4" width="14.6" height="10.90" rx="1.6" fill="none" stroke="#b4b4b4" stroke-width="1.05"/>
<rect x="649.25" y="148.3" width="14.6" height="11.10" rx="1.6" fill="none" stroke="#b4b4b4" stroke-width="1.05"/>
<rect x="649.25" y="170.5" width="14.6" height="11.10" rx="1.6" fill="none" stroke="#b4b4b4" stroke-width="1.05"/>
<rect x="649.25" y="181.6" width="14.6" height="11.20" rx="1.6" fill="none" stroke="#b4b4b4" stroke-width="1.05"/>
<rect x="649.25" y="192.8" width="14.6" height="10.90" rx="1.6" fill="none" stroke="#b4b4b4" stroke-width="1.05"/>
<rect x="667.80" y="126.3" width="14.6" height="11.10" rx="1.6" fill="none" stroke="#b4b4b4" stroke-width="1.05"/>
<rect x="667.80" y="137.4" width="14.6" height="10.90" rx="1.6" fill="none" stroke="#b4b4b4" stroke-width="1.05"/>
<rect x="667.80" y="148.3" width="14.6" height="11.10" rx="1.6" fill="none" stroke="#b4b4b4" stroke-width="1.05"/>
<rect x="667.80" y="170.5" width="14.6" height="11.10" rx="1.6" fill="none" stroke="#b4b4b4" stroke-width="1.05"/>
<rect x="667.80" y="181.6" width="14.6" height="11.20" rx="1.6" fill="none" stroke="#b4b4b4" stroke-width="1.05"/>
<rect x="667.80" y="192.8" width="14.6" height="10.90" rx="1.6" fill="none" stroke="#b4b4b4" stroke-width="1.05"/>
<rect x="686.35" y="126.3" width="14.6" height="11.10" rx="1.6" fill="none" stroke="#b4b4b4" stroke-width="1.05"/>
<rect x="686.35" y="137.4" width="14.6" height="10.90" rx="1.6" fill="none" stroke="#b4b4b4" stroke-width="1.05"/>
<rect x="686.35" y="148.3" width="14.6" height="11.10" rx="1.6" fill="none" stroke="#b4b4b4" stroke-width="1.05"/>
<rect x="686.35" y="170.5" width="14.6" height="11.10" rx="1.6" fill="none" stroke="#b4b4b4" stroke-width="1.05"/>
<rect x="686.35" y="181.6" width="14.6" height="11.20" rx="1.6" fill="none" stroke="#b4b4b4" stroke-width="1.05"/>
<rect x="686.35" y="192.8" width="14.6" height="10.90" rx="1.6" fill="none" stroke="#b4b4b4" stroke-width="1.05"/>
<rect x="704.90" y="126.3" width="14.6" height="11.10" rx="1.6" fill="none" stroke="#b4b4b4" stroke-width="1.05"/>
<rect x="704.90" y="137.4" width="14.6" height="10.90" rx="1.6" fill="none" stroke="#b4b4b4" stroke-width="1.05"/>
<rect x="704.90" y="148.3" width="14.6" height="11.10" rx="1.6" fill="none" stroke="#b4b4b4" stroke-width="1.05"/>
<rect x="704.90" y="170.5" width="14.6" height="11.10" rx="1.6" fill="none" stroke="#b4b4b4" stroke-width="1.05"/>
<rect x="704.90" y="181.6" width="14.6" height="11.20" rx="1.6" fill="none" stroke="#b4b4b4" stroke-width="1.05"/>
<rect x="704.90" y="192.8" width="14.6" height="10.90" rx="1.6" fill="none" stroke="#b4b4b4" stroke-width="1.05"/>
<rect x="723.45" y="126.3" width="14.6" height="11.10" rx="1.6" fill="none" stroke="#b4b4b4" stroke-width="1.05"/>
<rect x="723.45" y="137.4" width="14.6" height="10.90" rx="1.6" fill="none" stroke="#b4b4b4" stroke-width="1.05"/>
<rect x="723.45" y="148.3" width="14.6" height="11.10" rx="1.6" fill="none" stroke="#b4b4b4" stroke-width="1.05"/>
<rect x="723.45" y="170.5" width="14.6" height="11.10" rx="1.6" fill="none" stroke="#b4b4b4" stroke-width="1.05"/>
<rect x="723.45" y="181.6" width="14.6" height="11.20" rx="1.6" fill="none" stroke="#b4b4b4" stroke-width="1.05"/>
<rect x="723.45" y="192.8" width="14.6" height="10.90" rx="1.6" fill="none" stroke="#b4b4b4" stroke-width="1.05"/>
<rect x="742.00" y="126.3" width="14.6" height="11.10" rx="1.6" fill="none" stroke="#b4b4b4" stroke-width="1.05"/>
<rect x="742.00" y="137.4" width="14.6" height="10.90" rx="1.6" fill="none" stroke="#b4b4b4" stroke-width="1.05"/>
<rect x="742.00" y="148.3" width="14.6" height="11.10" rx="1.6" fill="none" stroke="#b4b4b4" stroke-width="1.05"/>
<rect x="742.00" y="170.5" width="14.6" height="11.10" rx="1.6" fill="none" stroke="#b4b4b4" stroke-width="1.05"/>
<rect x="742.00" y="181.6" width="14.6" height="11.20" rx="1.6" fill="none" stroke="#b4b4b4" stroke-width="1.05"/>
<rect x="742.00" y="192.8" width="14.6" height="10.90" rx="1.6" fill="none" stroke="#b4b4b4" stroke-width="1.05"/>
</g></svg>
<div class="abs" style="left:84.5px;top:286.8px;width:358.5px;height:235px;border:1px solid #2b2f37;border-radius:4px"></div>
<div class="abs" style="left:416.3px;top:286.5px;width:26.8px;height:236px;background:#06c8e6;border-radius:0 3px 3px 0"></div>
<div class="t" style="left:212px;top:303.5px;font-size:11.6px;color:#dadada">Planned</div>
<div class="t" style="left:347.4px;top:303.5px;font-size:11.6px;color:#dadada">Current</div>
<div class="abs" style="left:94px;top:322px;width:312.7px;height:1px;background:#b4b4b4"></div>
<div class="t" style="left:103.5px;top:339.5px;color:#c6c6c6;font-size:11.5px;font-size:11.3px">Passengers</div>
<div class="t" style="left:103.7px;top:376.3px;color:#c6c6c6;font-size:11.5px">Cargo</div>
<div class="t" style="left:103.7px;top:413.6px;color:#c6c6c6;font-size:11.5px;font-size:12.6px;transform:scaleX(0.82);transform-origin:0 0">ZFW</div>
<div class="t" style="left:103.7px;top:450.4px;color:#c6c6c6;font-size:11.5px;font-size:12.6px;transform:scaleX(0.84);transform-origin:0 0">ZFWCG</div>
<div class="abs" style="left:212px;top:331.5px;width:101.5px;height:27.8px;background:#2b2f38;border-radius:4px"></div>
<div class="abs" style="left:212px;top:368.4px;width:101.5px;height:27.6px;background:#2b2f38;border-radius:4px"></div>
<div class="abs" style="left:212px;top:406px;width:101.5px;height:27.4px;background:#2b2f38;border-radius:4px"></div>
<div class="t" style="left:220.2px;top:339.8px;font-family:'Liberation Mono',monospace;transform-origin:0 0;-webkit-text-stroke:0.3px currentColor;font-size:14.8px;color:#e8e8e8;transform:scaleX(0.915)">0</div>
<div class="t" style="left:282px;top:340px;font-family:'Liberation Mono',monospace;transform-origin:0 0;-webkit-text-stroke:0.3px currentColor;font-size:13.6px;color:#8e9196;transform:scaleX(0.95)">PAX</div>
<div class="t" style="left:220.2px;top:376.5px;font-family:'Liberation Mono',monospace;transform-origin:0 0;-webkit-text-stroke:0.3px currentColor;font-size:14.8px;color:#e8e8e8;transform:scaleX(0.915)">0</div>
<div class="t" style="left:282px;top:377px;font-family:'Liberation Mono',monospace;transform-origin:0 0;-webkit-text-stroke:0.3px currentColor;font-size:13.6px;color:#8e9196;transform:scaleX(0.95)">KGS</div>
<div class="t" style="left:220.2px;top:412.8px;font-family:'Liberation Mono',monospace;transform-origin:0 0;-webkit-text-stroke:0.3px currentColor;font-size:14.8px;color:#e8e8e8;transform:scaleX(0.915)">42500</div>
<div class="t" style="left:282px;top:413.5px;font-family:'Liberation Mono',monospace;transform-origin:0 0;-webkit-text-stroke:0.3px currentColor;font-size:13.6px;color:#8e9196;transform:scaleX(0.95)">KGS</div>
<div class="abs" style="left:202.2px;top:399.4px;width:122.3px;height:40.2px;border:3px solid #b8121c"></div>
<div class="t" style="left:346.6px;top:339.5px;font-family:'Liberation Mono',monospace;transform-origin:0 0;-webkit-text-stroke:0.3px currentColor;font-size:14.8px;color:#e8e8e8;transform:scaleX(0.915)"><span style="color:#8e9196">00</span>0<span style="color:#8e9196;margin-left:4px">PAX</span></div>
<div class="abs" style="left:340px;top:360px;width:76px;height:40px;overflow:hidden">
<div class="t" style="left:6.6px;top:16.5px;font-family:'Liberation Mono',monospace;transform-origin:0 0;-webkit-text-stroke:0.3px currentColor;font-size:14.8px;color:#e8e8e8;transform:scaleX(0.915)"><span style="color:#8e9196">0000</span>0<span style="color:#8e9196;margin-left:4px">KGS</span></div>
</div>
<div class="abs" style="left:340px;top:400px;width:76px;height:40px;overflow:hidden">
<div class="t" style="left:7.8px;top:12.8px;font-family:'Liberation Mono',monospace;transform-origin:0 0;-webkit-text-stroke:0.3px currentColor;font-size:14.8px;color:#e8e8e8;transform:scaleX(0.915)">42500<span style="color:#8e9196;margin-left:5px">KGS</span></div>
</div>
<div class="t" style="left:220.2px;top:448.5px;font-family:'Liberation Mono',monospace;transform-origin:0 0;-webkit-text-stroke:0.3px currentColor;font-size:14.8px;color:#e8e8e8;transform:scaleX(0.915)">29.98<span style="color:#8e9196;margin-left:5px">%</span></div>
<div class="t" style="left:347.8px;top:448.5px;font-family:'Liberation Mono',monospace;transform-origin:0 0;-webkit-text-stroke:0.3px currentColor;font-size:14.8px;color:#e8e8e8;transform:scaleX(0.915)">29.98<span style="color:#8e9196;margin-left:5px">%</span></div>
<div class="abs" style="left:165.9px;top:447px;width:27.6px;height:18.5px;background:#06c8e6;border-radius:3px"></div>
<div class="abs" style="left:94.4px;top:474.5px;width:312.2px;height:1px;background:#30343b"></div>
<div class="abs" style="left:123px;top:485.6px;width:54.6px;height:25.1px;background:#2b2f38;border-radius:4px"></div>
<div class="abs" style="left:206.2px;top:485.6px;width:55px;height:25.1px;background:#2b2f38;border-radius:4px"></div>
<div class="t" style="left:130.2px;top:493px;color:#a4a6aa;font-size:11px;font-size:11px">84</div>
<div class="t" style="left:152px;top:493px;color:#a4a6aa;font-size:11px;font-size:11px;transform:scaleX(0.84);transform-origin:0 0">KGS</div>
<div class="t" style="left:213.5px;top:493px;color:#a4a6aa;font-size:11px;font-size:11px">20</div>
<div class="t" style="left:235.3px;top:493px;color:#a4a6aa;font-size:11px;font-size:11px;transform:scaleX(0.84);transform-origin:0 0">KGS</div>
<div class="abs" style="left:311.1px;top:484.5px;width:56.1px;height:27.9px;background:#06c8e6;border-radius:4px"></div>
<div class="abs" style="left:369.8px;top:484.5px;width:36.1px;height:27.9px;background:#0d3a44;border-radius:4px"></div>
<svg style="left:0;top:0" width="450" height="597" viewBox="0 0 450 597">
<g fill="none" stroke="#0c2a33" stroke-width="1.2" stroke-linecap="round" stroke-linejoin="round">
<path d="M172.8,452.3 L175,452.3 L183,460.2 L184.5,460.2 M172.8,460.2 L175,460.2 L183,452.3 L184.5,452.3" stroke="#0b3844" stroke-width="1.1"/>
<path d="M183.8,450.4 L186.6,452.3 L183.8,454.2 Z M183.8,458.3 L186.6,460.2 L183.8,462.1 Z" fill="#0b3844" stroke="#0b3844" stroke-width="0.6"/>
<path d="M346.5,494 L332.5,494 M336,490.5 L332.5,494 L336,497.5 M332.5,502 L346.5,502 M343,498.5 L346.5,502 L343,505.5" stroke="#07232b" stroke-width="1.2"/>
</g>
<g fill="none" stroke="#0a2a31" stroke-width="1.3" stroke-linejoin="round" stroke-linecap="round">
<path d="M387.5,491.8 L381.8,491.8 Q379.6,491.8 379.6,494 L379.6,502.6 Q379.6,504.8 381.8,504.8 L387.5,504.8"/>
<path d="M383.5,498.3 L396.2,498.3 M392.6,494.7 L396.2,498.3 L392.6,501.9"/>
</g>
<g fill="none" stroke="#0d3a44" stroke-width="1.2" stroke-linejoin="round" stroke-linecap="round">
<path d="M424,408.6 L435.6,408.6 Q437.3,408.6 436.8,406.9 L432.8,399.8 L426.6,399.8 L422.6,406.9 Q422.2,408.6 424,408.6 Z" stroke-width="1.1"/>
<path d="M429.7,402.6 L429.7,407.8 M428.4,405.8 L429.7,407.1 L431,405.8" stroke-width="1"/>
</g>
<g fill="#f0f0f0">
<circle cx="108.8" cy="494.8" r="3"/>
<path d="M103.3,503.7 Q103.3,498.6 108.8,498.6 Q114.3,498.6 114.3,503.7 Z"/>
<rect x="184.6" y="493.5" width="15.2" height="10.6" rx="1.8"/>
</g>
<rect x="189.6" y="491.2" width="5.2" height="3" rx="1" fill="none" stroke="#f0f0f0" stroke-width="1.1"/>
<path d="M185,497 Q192.2,500 199.4,497" fill="none" stroke="#0f131d" stroke-width="0.9"/>
</svg>
<div class="abs" style="left:84.5px;top:532.3px;width:358.5px;height:46px;border:1px solid #2b2f37;border-radius:4px"></div>
<div class="t" style="left:95px;top:549px;font-size:11.4px;color:#d8d8d8">Boarding Time</div>
<div class="t" style="left:174px;top:550.5px;font-size:9px;color:#d0d0d0;letter-spacing:-0.55px">(0:00 minutes)</div>
<div class="abs" style="left:266.8px;top:542.4px;width:165.6px;height:26.2px;border:1px solid #2b2f37;border-radius:4px"></div>
<div class="abs" style="left:331px;top:543px;width:1px;height:25px;background:#2b2f37"></div>
<div class="abs" style="left:381.5px;top:542.4px;width:51px;height:26.2px;background:#06c8e6;border-radius:0 4px 4px 0"></div>
<div class="t" style="left:281.3px;top:549px;font-size:11.7px;color:#d8d8d8">Instant</div>
<div class="t" style="left:345.2px;top:549px;font-size:11.7px;color:#d8d8d8">Fast</div>
<div class="t" style="left:396px;top:550px;font-size:11.5px;color:#0f3a44;-webkit-text-stroke:0">Real</div>
<svg style="left:0;top:0" width="826" height="597" viewBox="0 0 826 597">
<defs><clipPath id="ccl"><rect x="498.6" y="287.4" width="303" height="294.6"/></clipPath></defs>
<line x1="498.6" y1="287.40" x2="801.6" y2="287.40" stroke="#30343b" stroke-width="1"/>
<line x1="498.6" y1="320.13" x2="801.6" y2="320.13" stroke="#30343b" stroke-width="1"/>
<line x1="498.6" y1="352.87" x2="801.6" y2="352.87" stroke="#30343b" stroke-width="1"/>
<line x1="498.6" y1="385.60" x2="801.6" y2="385.60" stroke="#30343b" stroke-width="1"/>
<line x1="498.6" y1="418.33" x2="801.6" y2="418.33" stroke="#30343b" stroke-width="1"/>
<line x1="498.6" y1="451.07" x2="801.6" y2="451.07" stroke="#30343b" stroke-width="1"/>
<line x1="498.6" y1="483.80" x2="801.6" y2="483.80" stroke="#30343b" stroke-width="1"/>
<line x1="498.6" y1="516.53" x2="801.6" y2="516.53" stroke="#30343b" stroke-width="1"/>
<line x1="498.6" y1="549.27" x2="801.6" y2="549.27" stroke="#30343b" stroke-width="1"/>
<line x1="498.6" y1="582.00" x2="801.6" y2="582.00" stroke="#30343b" stroke-width="1"/>
<line x1="498.6" y1="287.4" x2="498.6" y2="582.0" stroke="#30343b" stroke-width="1"/>
<line x1="801.6" y1="287.4" x2="801.6" y2="582.0" stroke="#30343b" stroke-width="1"/>
<g clip-path="url(#ccl)">
<line x1="524.00" y1="287.4" x2="569.50" y2="582.0" stroke="#30343b" stroke-width="1"/>
<line x1="575.50" y1="287.4" x2="599.90" y2="582.0" stroke="#30343b" stroke-width="1"/>
<line x1="627.00" y1="287.4" x2="630.30" y2="582.0" stroke="#30343b" stroke-width="1"/>
<line x1="678.50" y1="287.4" x2="660.70" y2="582.0" stroke="#30343b" stroke-width="1"/>
<line x1="730.00" y1="287.4" x2="691.10" y2="582.0" stroke="#30343b" stroke-width="1"/>
<line x1="781.50" y1="287.4" x2="721.50" y2="582.0" stroke="#30343b" stroke-width="1"/>
<line x1="833.00" y1="287.4" x2="751.90" y2="582.0" stroke="#30343b" stroke-width="1"/>
</g>
<polyline points="561.6,532.1 551,465 558.5,397 551.1,339.3 646.5,294 738.2,293.5 771.8,330.3 764,369.5 719.6,483.3 684.2,532.1" fill="none" stroke="#1ab2ca" stroke-width="2.8" stroke-linejoin="miter"/>
<line x1="556" y1="369.5" x2="764" y2="369.5" stroke="#8cc43c" stroke-width="2.4"/>
<line x1="558.5" y1="389.8" x2="755" y2="389.8" stroke="#d6d6d6" stroke-width="2"/>
<line x1="561.6" y1="532.1" x2="697.1" y2="532.1" stroke="#d6d6d6" stroke-width="2"/>
<line x1="697.1" y1="532.1" x2="701.1" y2="512" stroke="#8cc43c" stroke-width="2"/>
<path d="M663.6,526.6 L669.1,532.1 L663.6,537.6 L658.1,532.1 Z" fill="#ffffff"/>
<path d="M674,502 L679.4,507.4 L674,512.8 L668.6,507.4 Z" fill="#1cc2dc"/>
</svg>
<div class="t" style="left:505.5px;top:266.5px;font-family:'Liberation Mono',monospace;font-size:13px;-webkit-text-stroke:0.35px #cfcfcf;color:#cfcfcf;transform:scaleX(0.9);transform-origin:0 0">15%</div>
<div class="t" style="left:560.0px;top:266.5px;font-family:'Liberation Mono',monospace;font-size:13px;-webkit-text-stroke:0.35px #cfcfcf;color:#cfcfcf;transform:scaleX(0.9);transform-origin:0 0">20%</div>
<div class="t" style="left:614.5px;top:266.5px;font-family:'Liberation Mono',monospace;font-size:13px;-webkit-text-stroke:0.35px #cfcfcf;color:#cfcfcf;transform:scaleX(0.9);transform-origin:0 0">25%</div>
<div class="t" style="left:669.0px;top:266.5px;font-family:'Liberation Mono',monospace;font-size:13px;-webkit-text-stroke:0.35px #cfcfcf;color:#cfcfcf;transform:scaleX(0.9);transform-origin:0 0">30%</div>
<div class="t" style="left:723.5px;top:266.5px;font-family:'Liberation Mono',monospace;font-size:13px;-webkit-text-stroke:0.35px #cfcfcf;color:#cfcfcf;transform:scaleX(0.9);transform-origin:0 0">35%</div>
<div class="t" style="left:778.0px;top:266.5px;font-family:'Liberation Mono',monospace;font-size:13px;-webkit-text-stroke:0.35px #cfcfcf;color:#cfcfcf;transform:scaleX(0.9);transform-origin:0 0">40%</div>
<div class="t" style="left:471.3px;top:283.9px;font-family:'Liberation Mono',monospace;font-size:12.9px;-webkit-text-stroke:0.35px #cfcfcf;color:#cfcfcf;transform:scaleX(0.92);transform-origin:0 0">80</div>
<div class="t" style="left:471.3px;top:349.4px;font-family:'Liberation Mono',monospace;font-size:12.9px;-webkit-text-stroke:0.35px #cfcfcf;color:#cfcfcf;transform:scaleX(0.92);transform-origin:0 0">70</div>
<div class="t" style="left:471.3px;top:414.8px;font-family:'Liberation Mono',monospace;font-size:12.9px;-webkit-text-stroke:0.35px #cfcfcf;color:#cfcfcf;transform:scaleX(0.92);transform-origin:0 0">60</div>
<div class="t" style="left:471.3px;top:480.3px;font-family:'Liberation Mono',monospace;font-size:12.9px;-webkit-text-stroke:0.35px #cfcfcf;color:#cfcfcf;transform:scaleX(0.92);transform-origin:0 0">50</div>
<div class="t" style="left:471.3px;top:545.8px;font-family:'Liberation Mono',monospace;font-size:12.9px;-webkit-text-stroke:0.35px #cfcfcf;color:#cfcfcf;transform:scaleX(0.92);transform-origin:0 0">40</div>
<div class="t" style="left:695.4px;top:295px;font-family:'Liberation Mono',monospace;font-size:13.6px;-webkit-text-stroke:0.45px #15869c;color:#15869c;transform:scaleX(0.86);transform-origin:0 0">MTOW</div>
<div class="t" style="left:695.4px;top:354.8px;font-family:'Liberation Mono',monospace;font-size:13.6px;-webkit-text-stroke:0.45px #c8c8c8;color:#c8c8c8;transform:scaleX(0.86);transform-origin:0 0">MLDW</div>
<div class="t" style="left:695.4px;top:375.2px;font-family:'Liberation Mono',monospace;font-size:13.6px;-webkit-text-stroke:0.45px #c8c8c8;color:#c8c8c8;transform:scaleX(0.86);transform-origin:0 0">MZFW</div>
<div class="t" style="left:447.5px;top:568.5px;font-family:'Liberation Mono',monospace;font-size:8.8px;font-weight:bold;color:#d0d0d0;transform:scaleX(0.9);transform-origin:0 0">x 1000 kgs</div>
</body></html>
